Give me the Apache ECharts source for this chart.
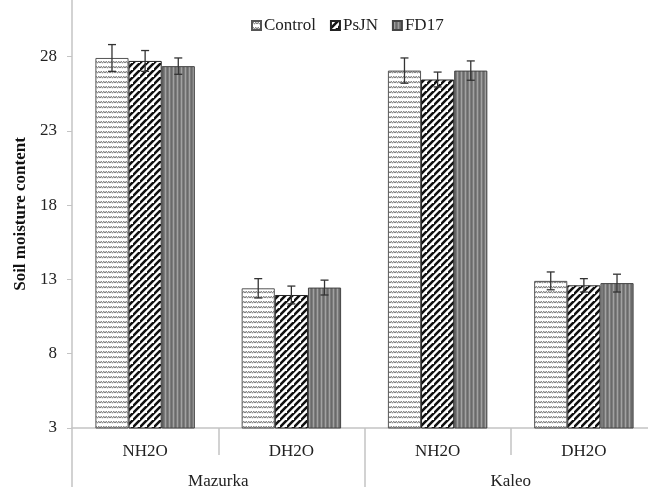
<!DOCTYPE html>
<html>
<head>
<meta charset="utf-8">
<script src="https://cdn.jsdelivr.net/npm/echarts@6/dist/echarts.min.js"></script>
<style>html,body{margin:0;padding:0;background:#fff}#c{width:648px;height:487px}</style>
</head>
<body>
<div id="c"></div>
<script>
const categories = ['NH2O', 'DH2O', 'NH2O', 'DH2O'];
const groups = ['Mazurka', 'Kaleo'];
const seriesNames = ['Control', 'PsJN', 'FD17'];
const control = [27.9, 12.4, 27.05, 12.9];
const controlErr = [0.9, 0.65, 0.85, 0.6];
const psjn = [27.7, 11.95, 26.45, 12.6];
const psjnErr = [0.7, 0.6, 0.5, 0.45];
const fd17 = [27.35, 12.45, 27.05, 12.75];
const fd17Err = [0.55, 0.5, 0.65, 0.6];
const yMin = 3, yInterval = 5;

function tile(w, h, draw) {
  const c = document.createElement('canvas');
  c.width = w; c.height = h;
  const g = c.getContext('2d');
  draw(g, w, h);
  return { image: c, repeat: 'repeat' };
}
const wavy = tile(5, 5, (g, w, h) => {
  g.fillStyle = '#ffffff'; g.fillRect(0, 0, w, h);
  g.strokeStyle = '#7a7a7a'; g.lineWidth = 1;
  g.beginPath();
  g.moveTo(0, 3.2); g.lineTo(1.25, 1.2); g.lineTo(2.5, 3.2); g.lineTo(3.75, 1.2); g.lineTo(5, 3.2);
  g.stroke();
});
const hatch = tile(7, 7, (g, w, h) => {
  g.fillStyle = '#ffffff'; g.fillRect(0, 0, w, h);
  g.strokeStyle = '#111111'; g.lineWidth = 2.6;
  g.beginPath();
  g.moveTo(-1, h + 1); g.lineTo(w + 1, -1);
  g.moveTo(-1 - w, h + 1); g.lineTo(1, -1);
  g.moveTo(w - 1, 2 * h + 1); g.lineTo(2 * w + 1, h - 1);
  g.stroke();
});
const vlines = tile(4, 2, (g, w, h) => {
  g.fillStyle = '#7c7c7c'; g.fillRect(0, 0, w, h);
  g.fillStyle = '#a2a2a2'; g.fillRect(1, 0, 1, h);
  g.fillStyle = '#6a6a6a'; g.fillRect(3, 0, 1, h);
});

const vals = [control, psjn, fd17];
const errs = [controlErr, psjnErr, fd17Err];
const fills = [wavy, hatch, vlines];
const borders = ['#555555', '#222222', '#444444'];
const catGapRatio = 0.32;

const font = '"Liberation Serif", "Times New Roman", serif';
const series = [];
seriesNames.forEach((name, s) => {
  series.push({
    name: name, type: 'bar', data: vals[s],
    barGap: '0%', barCategoryGap: (catGapRatio * 100) + '%',
    itemStyle: { color: fills[s], borderColor: borders[s], borderWidth: 1 },
    emphasis: { disabled: true }
  });
});
seriesNames.forEach((name, s) => {
  series.push({
    name: name + ' err', type: 'custom', z: 10,
    data: vals[s].map((v, i) => [i, v, errs[s][i]]),
    renderItem: function (params, api) {
      const i = api.value(0), v = api.value(1), e = api.value(2);
      const band = api.size([1, 0])[0];
      const bw = band * (1 - catGapRatio) / 3;
      const cx = api.coord([i, v])[0] + (s - 1) * bw;
      const yt = api.coord([i, v + e])[1];
      const yb = api.coord([i, v - e])[1];
      const cap = 4;
      const st = { stroke: '#333333', lineWidth: 1.3 };
      return { type: 'group', children: [
        { type: 'line', shape: { x1: cx, y1: yt, x2: cx, y2: yb }, style: st },
        { type: 'line', shape: { x1: cx - cap, y1: yt, x2: cx + cap, y2: yt }, style: st },
        { type: 'line', shape: { x1: cx - cap, y1: yb, x2: cx + cap, y2: yb }, style: st }
      ]};
    }
  });
});

const chart = echarts.init(document.getElementById('c'), null, { renderer: 'canvas' });
chart.setOption({
  animation: false,
  backgroundColor: '#ffffff',
  textStyle: { fontFamily: font, color: '#222' },
  legend: {
    data: seriesNames, left: 246, top: 12, itemWidth: 9, itemHeight: 9, itemGap: 14,
    textStyle: { fontFamily: font, fontSize: 17, color: '#222', padding: [0, 0, 0, -2] },
    icon: 'rect'
  },
  grid: { left: 72, right: -9, top: 0, bottom: 59, containLabel: false, outerBoundsMode: 'none' },
  xAxis: [
    {
      type: 'category', data: categories, position: 'bottom',
      axisLine: { lineStyle: { color: '#c4c4c4', width: 1.5 } },
      axisTick: { show: true, length: 27, lineStyle: { color: '#c4c4c4', width: 1.5 } },
      axisLabel: { fontFamily: font, fontSize: 17, color: '#222', margin: 15 }
    },
    {
      type: 'category', data: groups, position: 'bottom',
      axisLine: { show: false },
      axisTick: { show: true, length: 60, lineStyle: { color: '#c4c4c4', width: 1.5 } },
      axisLabel: { fontFamily: font, fontSize: 17, color: '#222', margin: 45 }
    }
  ],
  yAxis: {
    type: 'value', min: yMin, max: 31.8, interval: yInterval,
    name: 'Soil moisture content', nameLocation: 'middle', nameGap: 40,
    nameTextStyle: { fontFamily: font, fontSize: 17, fontWeight: 'bold', color: '#111' },
    axisLine: { show: true, lineStyle: { color: '#c4c4c4', width: 1.5 } },
    axisTick: { show: true, length: 5, lineStyle: { color: '#c4c4c4' } },
    axisLabel: { fontFamily: font, fontSize: 17, color: '#222', margin: 15, showMaxLabel: false },
    splitLine: { show: false }
  },
  series: series
});
</script>
</body>
</html>
